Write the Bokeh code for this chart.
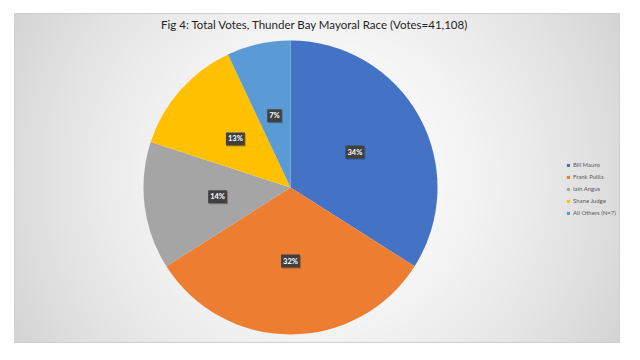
import numpy as np
from bokeh.plotting import figure
from bokeh.models import ColumnDataSource, Range1d, Legend, LegendItem
from bokeh.core.properties import value
from bokeh.embed import file_html
from bokeh.resources import INLINE

# ---- data ----
candidates = ["Bill Mauro", "Frank Pullia", "Iain Angus", "Shane Judge", "All Others (N=7)"]
shares = [34, 32, 14, 13, 7]
colors = ["#4472C4", "#ED7D31", "#A5A5A5", "#FFC000", "#5B9BD5"]
title_text = "Fig 4: Total Votes, Thunder Bay Mayoral Race (Votes=41,108)"

W, H = 624, 344
p = figure(width=W, height=H, output_backend="svg", toolbar_location=None,
           x_range=Range1d(0, W), y_range=Range1d(0, H), min_border=0,
           outline_line_color=None)
p.axis.visible = False
p.grid.visible = False
p.background_fill_color = "white"
p.border_fill_color = "white"

# ---- chart area background (radial gradient) ----
bx0, by0, bx1, by1 = 14, 2, 619, 331
bw, bh = bx1 - bx0, by1 - by0
yy, xx = np.mgrid[0:bh, 0:bw]
cx, cy = bw / 2, bh / 2
d = np.sqrt((xx - cx) ** 2 + (yy - cy) ** 2) / np.sqrt(cx ** 2 + cy ** 2)
g = (255 - (255 - 212) * d ** 1.6).astype(np.uint32)
img = (255 << 24) | (g << 16) | (g << 8) | g
p.image_rgba(image=[img.astype(np.uint32)], x=bx0, y=by0, dw=bw, dh=bh)
p.quad(left=[bx0], right=[bx1], bottom=[by0], top=[by1], fill_color=None,
       line_color="#cfcfcf", line_width=1)

# ---- pie ----
cxp, cyp, r = 290, 157, 147
vals = np.array(shares, dtype=float)
frac = vals / vals.sum()
cum = np.concatenate([[0], np.cumsum(frac)])
start = np.pi / 2 - cum[1:] * 2 * np.pi
end = np.pi / 2 - cum[:-1] * 2 * np.pi
mid = (start + end) / 2

src = ColumnDataSource(dict(cand=candidates, start=start, end=end, color=colors,
                            lx=cxp + 0.5 * r * np.cos(mid), ly=cyp + 0.5 * r * np.sin(mid),
                            lab=[f"{s}%" for s in shares]))
wr = p.wedge(x=cxp, y=cyp, radius=r, start_angle="start", end_angle="end",
             fill_color="color", line_color=None, source=src)

# label shadows
p.text(x="lx", y="ly", text="lab", source=src, x_offset=1, y_offset=1,
       text_font=value("Lato"), text_font_style="bold", text_font_size="7.5px",
       text_color="#000000", text_alpha=0, text_align="center", text_baseline="middle",
       background_fill_color="#000000", background_fill_alpha=0.25, padding=2)
p.text(x="lx", y="ly", text="lab", source=src,
       text_font=value("Lato"), text_font_style="bold", text_font_size="7.5px",
       text_color="white", text_align="center", text_baseline="middle",
       background_fill_color="#404040", padding=2)

# ---- title ----
p.text(x=[314.5], y=[320], text=[title_text], text_font=value("Lato"),
       text_font_size="11.5px", text_color="#1f1f1f",
       text_align="center", text_baseline="middle")

# ---- legend ----
items = [LegendItem(label=c, renderers=[wr], index=i) for i, c in enumerate(candidates)]
leg = Legend(items=items, location=(566, 128), orientation="vertical",
             label_text_font="Lato", label_text_font_size="6px",
             label_text_color="#595959", glyph_width=4, glyph_height=4,
             label_height=6, label_standoff=3, spacing=5, padding=0, margin=0,
             border_line_color=None, background_fill_alpha=0)
p.add_layout(leg, "center")

open("out.html", "w").write(file_html(p, INLINE))
